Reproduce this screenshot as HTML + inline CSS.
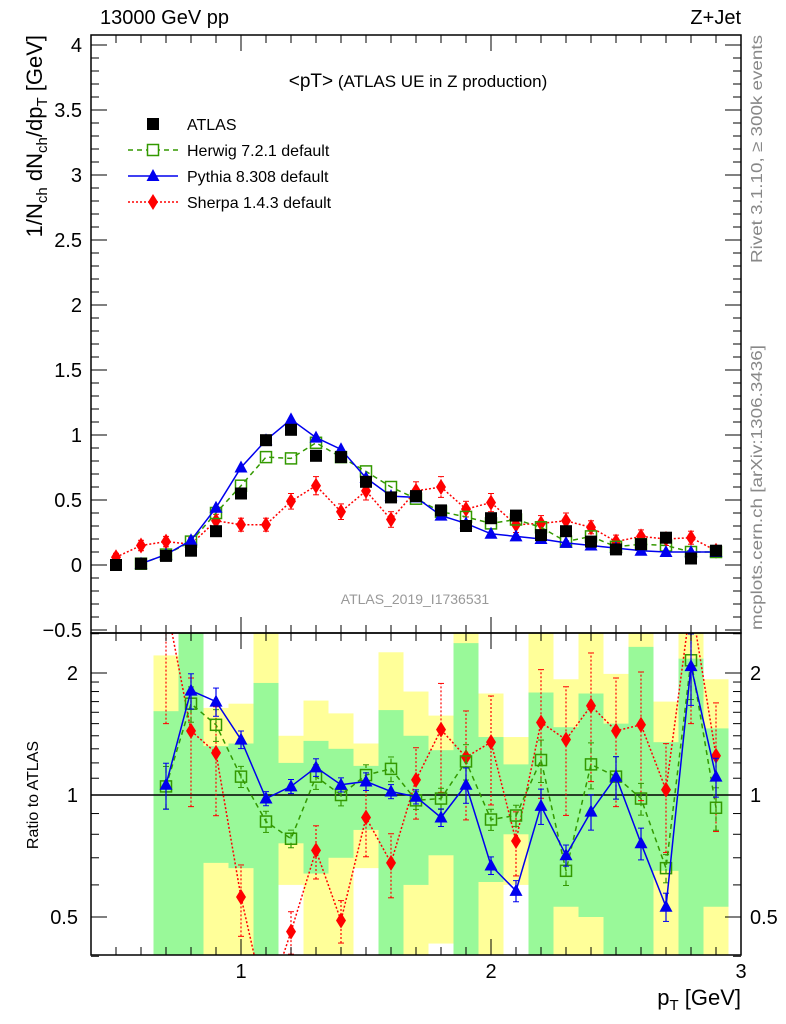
<!DOCTYPE html>
<html><head><meta charset="utf-8"><style>
body{margin:0;background:#fff;}
svg{display:block;font-family:"Liberation Sans",sans-serif;}
</style></head><body>
<svg id="c" width="786" height="1024" viewBox="0 0 786 1024"></svg>
<script>
const xs = [0.5,0.6,0.7,0.8,0.9,1.0,1.1,1.2,1.3,1.4,1.5,1.6,1.7,1.8,1.9,2.0,2.1,2.2,2.3,2.4,2.5,2.6,2.7,2.8,2.9];
const atlas = [0.0,0.01,0.07,0.11,0.26,0.55,0.96,1.04,0.84,0.83,0.64,0.52,0.53,0.42,0.30,0.36,0.38,0.23,0.26,0.18,0.12,0.16,0.21,0.05,0.11];
const herwig = [null,0.01,0.08,0.18,0.40,0.61,0.83,0.82,0.94,0.83,0.72,0.60,0.51,0.41,0.37,0.32,0.35,0.29,0.18,0.22,0.14,0.16,0.15,0.10,0.10];
const pythia = [null,0.01,0.08,0.19,0.44,0.75,0.96,1.12,0.98,0.89,0.67,0.53,0.52,0.38,0.32,0.24,0.22,0.20,0.17,0.15,0.13,0.11,0.10,0.10,0.10];
const sherpa = [0.06,0.15,0.18,0.16,0.34,0.31,0.31,0.49,0.61,0.41,0.57,0.35,0.57,0.60,0.43,0.48,0.31,0.32,0.34,0.29,0.18,0.22,0.20,0.21,0.11];
const sherpaErr = [0.03,0.04,0.04,0.05,0.05,0.05,0.05,0.06,0.07,0.06,0.07,0.06,0.07,0.08,0.06,0.07,0.06,0.06,0.06,0.05,0.05,0.05,0.05,0.05,0.04];

const rx = [0.7,0.8,0.9,1.0,1.1,1.2,1.3,1.4,1.5,1.6,1.7,1.8,1.9,2.0,2.1,2.2,2.3,2.4,2.5,2.6,2.7,2.8,2.9];
const rHerwig = [1.05,1.68,1.49,1.11,0.86,0.78,1.11,1.0,1.12,1.16,0.97,0.98,1.21,0.87,0.89,1.22,0.65,1.19,1.11,0.98,0.66,2.15,0.93];
const rPythia = [1.06,1.81,1.70,1.37,0.98,1.05,1.17,1.06,1.08,1.02,0.99,0.88,1.06,0.67,0.58,0.94,0.71,0.91,1.11,0.76,0.53,2.08,1.11];
const rSherpa = [3.0,1.44,1.27,0.56,0.30,0.46,0.73,0.49,0.88,0.68,1.09,1.45,1.24,1.35,0.77,1.51,1.37,1.66,1.44,1.49,1.03,3.0,1.25];
const rSherpaErr = [0.5,0.35,0.3,0.2,0.1,0.12,0.15,0.12,0.2,0.18,0.2,0.3,0.3,0.3,0.18,0.35,0.35,0.35,0.35,0.35,0.3,0.5,0.35];
const rHerwigErr = [0.12,0.1,0.09,0.06,0.06,0.05,0.07,0.06,0.06,0.07,0.05,0.06,0.1,0.06,0.06,0.12,0.08,0.13,0.12,0.09,0.08,0.2,0.12];
const rPythiaErr = [0.13,0.1,0.08,0.05,0.04,0.04,0.05,0.04,0.05,0.04,0.04,0.05,0.1,0.05,0.06,0.1,0.06,0.1,0.12,0.09,0.08,0.2,0.11];

const yelHi = [2.21,3,1.64,1.68,3,1.40,1.71,1.59,1.34,2.25,1.80,1.57,2.6,1.78,1.39,2.6,1.93,2.6,1.99,2.6,1.70,2.6,1.93];
const yelLo = [0.3,0.3,0.3,0.3,0.3,0.60,0.3,0.3,0.66,0.3,0.3,0.43,0.3,0.3,0.60,0.3,0.3,0.3,0.3,0.3,0.3,0.3,0.3];
const grnHi = [1.61,3,1.32,1.34,1.89,1.20,1.36,1.30,1.18,1.62,1.40,1.29,2.37,1.39,1.19,1.79,1.47,1.78,1.50,2.32,1.35,2.17,1.46];
const grnLo = [0.3,0.3,0.68,0.66,0.3,0.76,0.64,0.70,0.82,0.3,0.60,0.71,0.3,0.61,0.80,0.3,0.53,0.50,0.3,0.3,0.65,0.3,0.53];

const yTicks = [-0.5,0,0.5,1,1.5,2,2.5,3,3.5,4];
const yTickLabels = ["\u22120.5","0","0.5","1","1.5","2","2.5","3","3.5","4"];
const rTicks = [0.5,1,2];
const rTickLabels = ["0.5","1","2"];
const xTicks = [1,2,3];
const xTickLabels = ["1","2","3"];

const L=91,R=741,T=35,M=633,B=955;
const X = v => L + (v-0.4)*250;
const Y = v => 565 - v*130;
const RY = v => 795 - Math.log2(v)*122;
const svg = document.getElementById('c');
const NS='http://www.w3.org/2000/svg';
function mk(tag, at, parent){const e=document.createElementNS(NS,tag);for(const k in at)e.setAttribute(k,at[k]);(parent||svg).appendChild(e);return e;}
function txt(s,at,parent){const e=mk('text',at,parent);e.textContent=s;return e;}

const defs=mk('defs',{});
const c1=mk('clipPath',{id:'cm'},defs);mk('rect',{x:L,y:T,width:R-L,height:M-T},c1);
const c2=mk('clipPath',{id:'cr'},defs);mk('rect',{x:L,y:M,width:R-L,height:B-M},c2);

const gBand=mk('g',{'clip-path':'url(#cr)'});


rx.forEach((x,i)=>{
  const a=X(x-0.05),w=25;
  const ry=mk('rect',{x:a,y:RY(yelHi[i]),width:w,height:RY(yelLo[i])-RY(yelHi[i]),fill:'#ffff99'},gBand);
  
  
  const rg=mk('rect',{x:a,y:RY(grnHi[i]),width:w,height:RY(grnLo[i])-RY(grnHi[i]),fill:'#99f999'},gBand);
  
  
});
mk('line',{x1:L,x2:R,y1:RY(1),y2:RY(1),stroke:'#000','stroke-width':1.5});

function marker(kind,x,y,parent){
  if(kind==='sq') return mk('rect',{x:x-6,y:y-6,width:12,height:12,fill:'#000'},parent);
  if(kind==='osq') return mk('rect',{x:x-5.5,y:y-5.5,width:11,height:11,fill:'none',stroke:'#339900','stroke-width':1.5},parent);
  if(kind==='tri') return mk('polygon',{points:`${x},${y-7} ${x-6.5},${y+5} ${x+6.5},${y+5}`,fill:'#0000ee'},parent);
  if(kind==='dia') return mk('polygon',{points:`${x},${y-8} ${x+5},${y} ${x},${y+8} ${x-5},${y}`,fill:'#ff0000'},parent);
}
function series(name,xv,yv,fx,fy,kind,color,dash,errs,clip,rel){
  const g=mk('g',{'clip-path':`url(#${clip})`});
  
  
  let pts=[];
  xv.forEach((x,i)=>{if(yv[i]!=null)pts.push(fx(x)+','+fy(yv[i]));});
  if(color) mk('polyline',{points:pts.join(' '),fill:'none',stroke:color,'stroke-width':1.5,'stroke-dasharray':dash},g);
  xv.forEach((x,i)=>{
    if(yv[i]==null)return;
    if(errs){const e=errs[i];const lo=rel?yv[i]*(1-e):yv[i]-e,hi=rel?yv[i]*(1+e):yv[i]+e;
      const px=fx(x);
      mk('line',{x1:px,x2:px,y1:fy(Math.max(lo,0.01)),y2:fy(hi),stroke:color,'stroke-width':1.2,'stroke-dasharray':dash==='none'?'':dash},g);
      mk('line',{x1:px-3,x2:px+3,y1:fy(Math.max(lo,0.01)),y2:fy(Math.max(lo,0.01)),stroke:color,'stroke-width':1},g);
      mk('line',{x1:px-3,x2:px+3,y1:fy(hi),y2:fy(hi),stroke:color,'stroke-width':1},g);}
    const m=marker(kind,fx(x),fy(yv[i]),g);
    
    
  });
}
series('sherpa-main',xs,sherpa,X,Y,'dia','#ff0000','2,2',sherpaErr,'cm',false);
series('herwig-main',xs,herwig,X,Y,'osq','#339900','5,4',null,'cm',false);
series('pythia-main',xs,pythia,X,Y,'tri','#0000ee','none',null,'cm',false);
series('atlas-main',xs,atlas,X,Y,'sq',null,'',null,'cm',false);
series('sherpa-ratio',rx,rSherpa,X,RY,'dia','#ff0000','2,2',rSherpaErr,'cr',true);
series('herwig-ratio',rx,rHerwig,X,RY,'osq','#339900','5,4',rHerwigErr,'cr',true);
series('pythia-ratio',rx,rPythia,X,RY,'tri','#0000ee','none',rPythiaErr,'cr',true);

mk('rect',{x:L,y:T,width:R-L,height:M-T,fill:'none',stroke:'#000','stroke-width':1.5});
mk('rect',{x:L,y:M,width:R-L,height:B-M,fill:'none',stroke:'#000','stroke-width':1.5});

for(let v=-0.5;v<=4.05;v+=0.1){
  const y=Y(v);if(y<T||y>M)continue;
  const maj=Math.abs(v*2-Math.round(v*2))<1e-6;const len=maj?16:8;
  mk('line',{x1:L,x2:L+len,y1:y,y2:y,stroke:'#000'});mk('line',{x1:R,x2:R-len,y1:y,y2:y,stroke:'#000'});
}
yTicks.forEach((v,i)=>{const t=txt(yTickLabels[i],{x:82,y:Y(v)+7,'text-anchor':'end','font-size':20});
  });
[0.4,0.5,0.6,0.7,0.8,0.9,1,2].forEach(v=>{const y=RY(v);const maj=rTicks.includes(v);const len=maj?16:8;
  mk('line',{x1:L,x2:L+len,y1:y,y2:y,stroke:'#000'});mk('line',{x1:R,x2:R-len,y1:y,y2:y,stroke:'#000'});});
for(let v=1.1;v<2;v+=0.1){const y=RY(v);mk('line',{x1:L,x2:L+8,y1:y,y2:y,stroke:'#000'});mk('line',{x1:R,x2:R-8,y1:y,y2:y,stroke:'#000'});}
mk('line',{x1:L,x2:L+8,y1:RY(2.5),y2:RY(2.5),stroke:'#000'});mk('line',{x1:R,x2:R-8,y1:RY(2.5),y2:RY(2.5),stroke:'#000'});
rTicks.forEach((v,i)=>{
  const a=txt(rTickLabels[i],{x:78,y:RY(v)+7,'text-anchor':'end','font-size':20});
  
  const b=txt(rTickLabels[i],{x:750,y:RY(v)+7,'font-size':20});
  });
for(let k=5;k<=30;k++){const v=k/10;const x=X(v);const maj=k%10===0;const len=maj?16:8;
  mk('line',{x1:x,x2:x,y1:M,y2:M-len,stroke:'#000'});mk('line',{x1:x,x2:x,y1:T,y2:T+len,stroke:'#000'});
  mk('line',{x1:x,x2:x,y1:B,y2:B-len,stroke:'#000'});mk('line',{x1:x,x2:x,y1:M,y2:M+len,stroke:'#000'});}
xTicks.forEach((v,i)=>{const t=txt(xTickLabels[i],{x:X(v),y:978,'text-anchor':'middle','font-size':20});
  });
</script>
<div style="position:absolute;left:0;top:0;width:786px;height:1024px;pointer-events:none;font-family:'Liberation Sans',sans-serif;">
<svg width="786" height="1024" style="position:absolute;left:0;top:0">
<text x="100" y="24" font-size="20">13000 GeV pp</text>
<text x="741" y="24" font-size="20" text-anchor="end">Z+Jet</text>
<text x="418" y="87" font-size="17" text-anchor="middle"><tspan font-size="19">&lt;pT&gt;</tspan> (ATLAS UE in Z production)</text>
<text transform="translate(42,35) rotate(-90)" font-size="22" text-anchor="end">1/N<tspan font-size="15" dy="5">ch</tspan><tspan dy="-5"> dN</tspan><tspan font-size="15" dy="5">ch</tspan><tspan dy="-5">/dp</tspan><tspan font-size="15" dy="5">T</tspan><tspan dy="-5"> [GeV]</tspan></text>
<text transform="translate(38,795) rotate(-90)" font-size="16" text-anchor="middle">Ratio to ATLAS</text>
<text x="741" y="1005" font-size="22" text-anchor="end">p<tspan font-size="15" dy="5">T</tspan><tspan dy="-5"> [GeV]</tspan></text>
<text transform="translate(762,35) rotate(-90)" font-size="16" fill="#888" text-anchor="end" textLength="228" lengthAdjust="spacingAndGlyphs">Rivet 3.1.10, ≥ 300k events</text>
<text transform="translate(762,630) rotate(-90)" font-size="16" fill="#888" text-anchor="start" textLength="285" lengthAdjust="spacingAndGlyphs">mcplots.cern.ch [arXiv:1306.3436]</text>
<text x="415" y="604" font-size="14" fill="#999" text-anchor="middle">ATLAS_2019_I1736531</text>
<g font-size="16">
 <rect x="147" y="118" width="12" height="12" fill="#000"/>
 <text x="187" y="130">ATLAS</text>
 <line x1="128" x2="178" y1="150" y2="150" stroke="#339900" stroke-width="1.5" stroke-dasharray="5,4"/>
 <rect x="147.5" y="144.5" width="11" height="11" fill="#fff" stroke="#339900" stroke-width="1.5"/>
 <text x="187" y="156">Herwig 7.2.1 default</text>
 <line x1="128" x2="178" y1="176" y2="176" stroke="#0000ee" stroke-width="1.5"/>
 <polygon points="153,169 146.5,181 159.5,181" fill="#0000ee"/>
 <text x="187" y="182">Pythia 8.308 default</text>
 <line x1="128" x2="178" y1="202" y2="202" stroke="#ff0000" stroke-width="1.5" stroke-dasharray="2,2"/>
 <polygon points="153,194 158,202 153,210 148,202" fill="#ff0000"/>
 <text x="187" y="208">Sherpa 1.4.3 default</text>
</g>
</svg></div>
</body></html>
